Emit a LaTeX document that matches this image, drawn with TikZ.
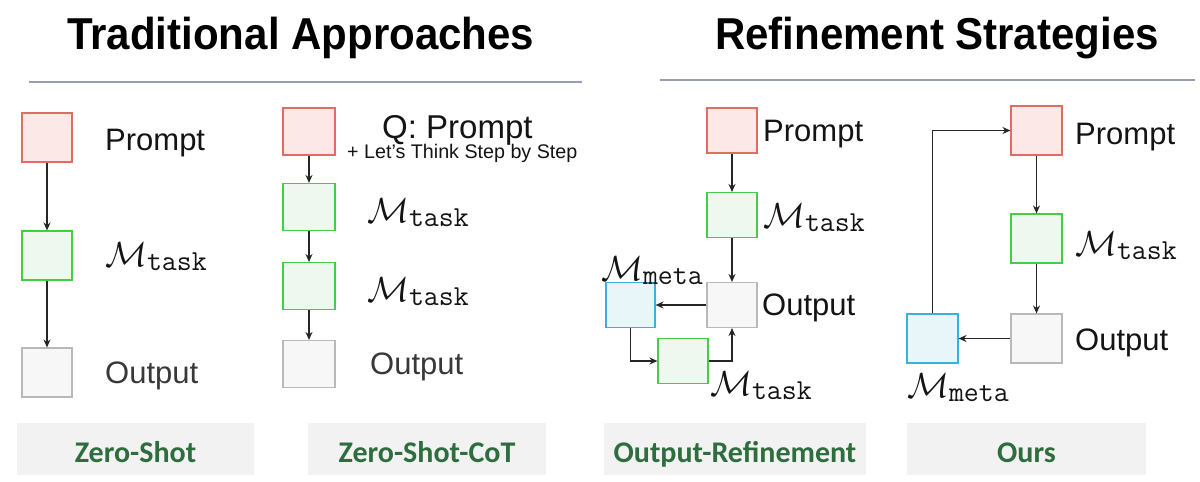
\documentclass[tikz,border=0pt]{standalone}
\usepackage{fontspec}
\setmainfont{Liberation Sans}
\newfontfamily\calfont{Carlito}
\usetikzlibrary{arrows.meta}
\definecolor{promptD}{RGB}{222,110,100}
\definecolor{promptF}{RGB}{251,232,231}
\definecolor{taskD}{RGB}{70,205,70}
\definecolor{taskF}{RGB}{238,248,238}
\definecolor{outD}{RGB}{185,185,185}
\definecolor{outF}{RGB}{247,247,247}
\definecolor{metaD}{RGB}{60,175,225}
\definecolor{metaF}{RGB}{232,246,250}
\definecolor{ruleC}{RGB}{150,158,175}
\definecolor{labG}{RGB}{46,110,62}
\definecolor{labF}{RGB}{242,242,242}
\newcommand{\Mlab}[1]{{\fontsize{24.88}{26}\selectfont\scalebox{1.4}{$\mathcal{M}$}}\raisebox{-4pt}{\fontsize{29}{30}\selectfont\ttfamily #1}}
\newcommand{\headtxt}[1]{\scalebox{0.94}[1]{\fontsize{44.7}{50}\selectfont\bfseries #1}}
\begin{document}
\begin{tikzpicture}[x=1pt,y=-1pt,
  box/.style={draw, line width=1.1pt, inner sep=0pt, minimum width=50pt, minimum height=49pt},
  pbox/.style={box, draw=promptD, fill=promptF},
  tbox/.style={box, draw=taskD, fill=taskF},
  obox/.style={box, draw=outD, fill=outF},
  mbox/.style={box, draw=metaD, fill=metaF},
  lbl/.style={anchor=base west, inner sep=0pt, font=\fontsize{31}{34}\selectfont, text=black!92},
  olbl/.style={lbl, text=black!78},
  head/.style={anchor=base west, inner sep=0pt},
  arr/.style={-{Stealth[length=8pt,width=7pt]}, line width=1.3pt, draw=black!85},
  rulel/.style={draw=ruleC, line width=1.6pt},
  capbox/.style={fill=labF, draw=none, inner sep=0pt, minimum height=52pt, text height=26pt, text depth=0pt, text=labG, font=\calfont\bfseries\fontsize{30}{32}\selectfont}
]
\useasboundingbox (0,0) rectangle (1200,482);
\fill[white] (0,0) rectangle (1200,482);

% headings
\node[head] (h1) at (67,49) {\headtxt{Traditional Approaches}};
\node[head] (h2) at (715,49) {\headtxt{Refinement Strategies}};
\coordinate (r1a) at (29,82); \coordinate (r1b) at (582,82);
\coordinate (r2a) at (660,80); \coordinate (r2b) at (1195,80);
\draw[rulel] (r1a) -- (r1b);
\draw[rulel] (r2a) -- (r2b);

% Panel 1: Zero-Shot
\node[pbox] (p1) at (47,137.5) {};
\node[tbox] (t1) at (47,255.5) {};
\node[obox] (o1) at (47,372.5) {};
\node[lbl] (lp1) at (105,150) {Prompt};
\node[lbl] (lt1) at (105,266) {\Mlab{task}};
\node[olbl] (lo1) at (105,383) {Output};
\draw[arr] (p1) -- (t1);
\draw[arr] (t1) -- (o1);

% Panel 2: Zero-Shot-CoT
\begin{scope}[box/.append style={minimum width=52pt, minimum height=47pt}]
\node[pbox] (p2) at (309,131.5) {};
\node[tbox] (t2a) at (309,207) {};
\node[tbox] (t2b) at (309,286) {};
\node[obox] (o2) at (309,364) {};
\end{scope}
\node[lbl, font=\fontsize{33}{35}\selectfont] (lp2) at (382,138) {Q: Prompt};
\node[lbl, font=\fontsize{19.7}{21}\selectfont] (lp2b) at (347,158) {+ Let's Think Step by Step};
\node[lbl] (lt2a) at (367,222) {\Mlab{task}};
\node[lbl] (lt2b) at (367,301) {\Mlab{task}};
\node[olbl] (lo2) at (370,374) {Output};
\draw[arr] (p2) -- (t2a);
\draw[arr] (t2a) -- (t2b);
\draw[arr] (t2b) -- (o2);

% Panel 3: Output-Refinement
\begin{scope}[box/.append style={minimum width=50pt, minimum height=45pt}]
\node[pbox] (p3) at (732,130.5) {};
\node[tbox] (t3) at (732,215) {};
\node[obox] (o3) at (732,305) {};
\node[mbox, minimum width=49pt] (m3) at (630.5,305) {};
\node[tbox] (t3b) at (683,361) {};
\end{scope}
\node[lbl] (lp3) at (763,141) {Prompt};
\node[lbl] (lt3) at (763,227) {\Mlab{task}};
\node[lbl] (lo3) at (762,315) {Output};
\node[lbl] (lm3) at (601,280) {\Mlab{meta}};
\node[lbl] (lt3b) at (710,395) {\Mlab{task}};
\draw[arr] (p3) -- (t3);
\draw[arr] (t3) -- (o3);
\draw[arr] (o3) -- (m3);
\draw[arr] (m3.south) |- (t3b.west);
\draw[arr] (t3b.east) -| (o3.south);

% Panel 4: Ours
\begin{scope}[box/.append style={minimum width=51pt, minimum height=49pt}]
\node[pbox] (p4) at (1036.5,130.5) {};
\node[tbox] (t4) at (1036.5,238.5) {};
\node[obox] (o4) at (1036.5,338.5) {};
\node[mbox] (m4) at (932.5,338.5) {};
\end{scope}
\node[lbl] (lp4) at (1075,144) {Prompt};
\node[lbl] (lt4) at (1075,255) {\Mlab{task}};
\node[lbl] (lo4) at (1075,350) {Output};
\node[lbl] (lm4) at (907,397) {\Mlab{meta}};
\draw[arr] (p4) -- (t4);
\draw[arr] (t4) -- (o4);
\draw[arr] (o4) -- (m4);
\draw[arr] (m4.north) |- (p4.west);

% bottom captions
\node[capbox, minimum width=237pt] (c1) at (135.5,449) {Zero-Shot};
\node[capbox, minimum width=238pt] (c2) at (427,449) {Zero-Shot-CoT};
\node[capbox, minimum width=262pt] (c3) at (735,449) {Output-Refinement};
\node[capbox, minimum width=239pt] (c4) at (1026.5,449) {Ours};
\end{tikzpicture}
\end{document}
